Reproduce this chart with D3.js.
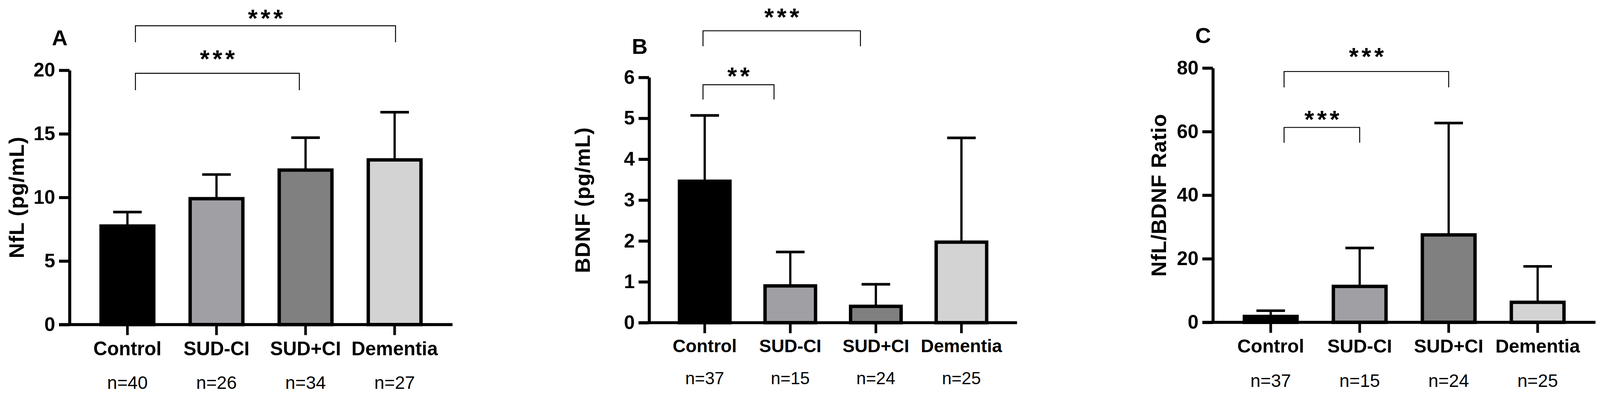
<!DOCTYPE html>
<html>
<head>
<meta charset="utf-8">
<script src="https://cdn.jsdelivr.net/npm/d3@7/dist/d3.min.js"></script>
<style>
  html, body { margin: 0; padding: 0; background: #ffffff; width: 100%; height: 100%; overflow: hidden; }
  svg { display: block; }
</style>
</head>
<body>
<svg id="chart" viewBox="0 0 4257 1045" preserveAspectRatio="xMidYMin meet" width="100%" height="100%"></svg>
<script>
// ---------------- DATA ----------------
const categories = ["Control", "SUD-CI", "SUD+CI", "Dementia"];
const barColors = ["#000000", "#a09fa4", "#808080", "#d3d3d3"];

// Panel A: NfL (pg/mL)
const nflMean  = [7.75, 9.9, 12.15, 12.95];
const nflUpper = [8.85, 11.8, 14.7, 16.7];
const nflN     = [40, 26, 34, 27];
const nflTicks = [0, 5, 10, 15, 20];
const nflBrackets = [
  { from: 0.09, to: 1.93, y: 19.76, leg: 18.43, starY: 21.4, label: "***" },
  { from: 0.09, to: 3.01, y: 23.5,  leg: 22.2,  starY: 24.6, label: "***" }
];

// Panel B: BDNF (pg/mL)
const bdnfMean  = [3.46, 0.9, 0.4, 1.97];
const bdnfUpper = [5.07, 1.73, 0.94, 4.52];
const bdnfN     = [37, 15, 24, 25];
const bdnfTicks = [0, 1, 2, 3, 4, 5, 6];
const bdnfBrackets = [
  { from: -0.02, to: 0.81, y: 5.82, leg: 5.46, starY: 6.19, label: "**" },
  { from: -0.02, to: 1.82, y: 7.14, leg: 6.76, starY: 7.64, label: "***" }
];

// Panel C: NfL/BDNF ratio
const ratioMean  = [1.85, 11.3, 27.5, 6.3];
const ratioUpper = [3.66, 23.4, 62.7, 17.6];
const ratioN     = [37, 15, 24, 25];
const ratioTicks = [0, 20, 40, 60, 80];
const ratioBrackets = [
  { from: 0.15, to: 1.0, y: 61.3, leg: 56.5, starY: 65.9, label: "***" },
  { from: 0.15, to: 2.0, y: 78.9, leg: 73.9, starY: 85.7, label: "***" }
];

// ---------------- LAYOUT ----------------
const panels = [
  { letter: "A", title: "NfL (pg/mL)", mean: nflMean, upper: nflUpper, n: nflN, ticks: nflTicks, brackets: nflBrackets,
    left: 185, right: 1204, top: 187, bottom: 864, titleX: 63, letterX: 159, letterY: 121,
    catPad: 18, catFs: 51, nY: 1035, nFs: 48 },
  { letter: "B", title: "BDNF (pg/mL)", mean: bdnfMean, upper: bdnfUpper, n: bdnfN, ticks: bdnfTicks, brackets: bdnfBrackets,
    left: 1727, right: 2706, top: 206, bottom: 859, titleX: 1569, letterX: 1702, letterY: 143,
    catPad: 16, catFs: 48, nY: 1023, nFs: 46 },
  { letter: "C", title: "NfL/BDNF Ratio", mean: ratioMean, upper: ratioUpper, n: ratioN, ticks: ratioTicks, brackets: ratioBrackets,
    left: 3227, right: 4245, top: 181, bottom: 858, titleX: 3102, letterX: 3201, letterY: 114,
    catPad: 17, catFs: 50, nY: 1030, nFs: 48 }
];

const FONT = "'Liberation Sans', Arial, Helvetica, sans-serif";
const tickLen = 28;
const svg = d3.select("#chart");

panels.forEach(p => {
  const g = svg.append("g");
  const x = d3.scaleBand().domain(categories).range([p.left, p.right])
    .paddingInner(0.37).paddingOuter(0.335);
  const y = d3.scaleLinear().domain([0, d3.max(p.ticks)]).range([p.bottom, p.top]);
  const bw = x.bandwidth();
  const cx = c => x(c) + bw / 2;
  const idx = d3.scaleLinear().domain([0, 3]).range([cx(categories[0]), cx(categories[3])]);

  const rows = categories.map((c, i) => ({ c, m: p.mean[i], u: p.upper[i], n: p.n[i], col: barColors[i] }));

  // error bars (upper only)
  const capHalf = 38;
  g.selectAll(".stem").data(rows).join("line")
    .attr("x1", d => cx(d.c)).attr("x2", d => cx(d.c))
    .attr("y1", d => y(d.m)).attr("y2", d => y(d.u))
    .attr("stroke", "#000").attr("stroke-width", 6);
  g.selectAll(".cap").data(rows).join("line")
    .attr("x1", d => cx(d.c) - capHalf).attr("x2", d => cx(d.c) + capHalf)
    .attr("y1", d => y(d.u)).attr("y2", d => y(d.u))
    .attr("stroke", "#000").attr("stroke-width", 7);

  // bars
  g.selectAll(".bar").data(rows).join("rect")
    .attr("x", d => x(d.c) + 4.5).attr("width", bw - 9)
    .attr("y", d => y(d.m)).attr("height", d => y(0) - y(d.m))
    .attr("fill", d => d.col).attr("stroke", "#000").attr("stroke-width", 9);

  // y axis
  const ya = g.append("g").attr("transform", `translate(${p.left},0)`)
    .call(d3.axisLeft(y).tickValues(p.ticks).tickSize(tickLen).tickSizeOuter(0).tickPadding(10).tickFormat(d3.format("d")));
  ya.select(".domain").attr("stroke-width", 8).attr("stroke", "#000");
  ya.selectAll(".tick line").attr("stroke-width", 8).attr("stroke", "#000");
  ya.selectAll(".tick text").attr("font-family", FONT).attr("font-size", 52).attr("font-weight", "bold").attr("fill", "#000");

  // x axis
  const xa = g.append("g").attr("transform", `translate(0,${p.bottom})`)
    .call(d3.axisBottom(x).tickSize(tickLen).tickSizeOuter(0).tickPadding(p.catPad));
  xa.select(".domain").remove();
  xa.append("line").attr("x1", p.left - tickLen).attr("x2", p.right).attr("y1", 0).attr("y2", 0)
    .attr("stroke", "#000").attr("stroke-width", 8);
  xa.selectAll(".tick line").attr("stroke-width", 7).attr("stroke", "#000");
  xa.selectAll(".tick text").attr("font-family", FONT).attr("font-size", p.catFs).attr("font-weight", "bold").attr("fill", "#000");

  // n labels
  g.selectAll(".nlab").data(rows).join("text")
    .attr("x", d => cx(d.c)).attr("y", p.nY)
    .attr("text-anchor", "middle").attr("font-family", FONT).attr("font-size", p.nFs)
    .attr("fill", "#000").text(d => "n=" + d.n);

  // y title
  g.append("text")
    .attr("transform", `translate(${p.titleX},${(p.top + p.bottom) / 2}) rotate(-90)`)
    .attr("text-anchor", "middle").attr("font-family", FONT).attr("font-size", 56)
    .attr("font-weight", "bold").attr("letter-spacing", 1).text(p.title);

  // panel letter
  g.append("text").attr("x", p.letterX).attr("y", p.letterY)
    .attr("text-anchor", "middle").attr("font-family", FONT).attr("font-size", 58)
    .attr("font-weight", "bold").text(p.letter);

  // significance brackets
  p.brackets.forEach(b => {
    const x1 = idx(b.from), x2 = idx(b.to);
    g.append("path")
      .attr("d", `M${x1},${y(b.leg)}V${y(b.y)}H${x2}V${y(b.leg)}`)
      .attr("fill", "none").attr("stroke", "#000").attr("stroke-width", 2.5);
    const fs = 66, ls = 8;
    g.append("text").attr("x", (x1 + x2) / 2 + ls / 2).attr("y", y(b.starY) + fs * 0.6)
      .attr("text-anchor", "middle").attr("font-family", FONT).attr("font-size", fs)
      .attr("font-weight", "bold").attr("letter-spacing", ls).text(b.label);
  });
});
</script>
</body>
</html>
